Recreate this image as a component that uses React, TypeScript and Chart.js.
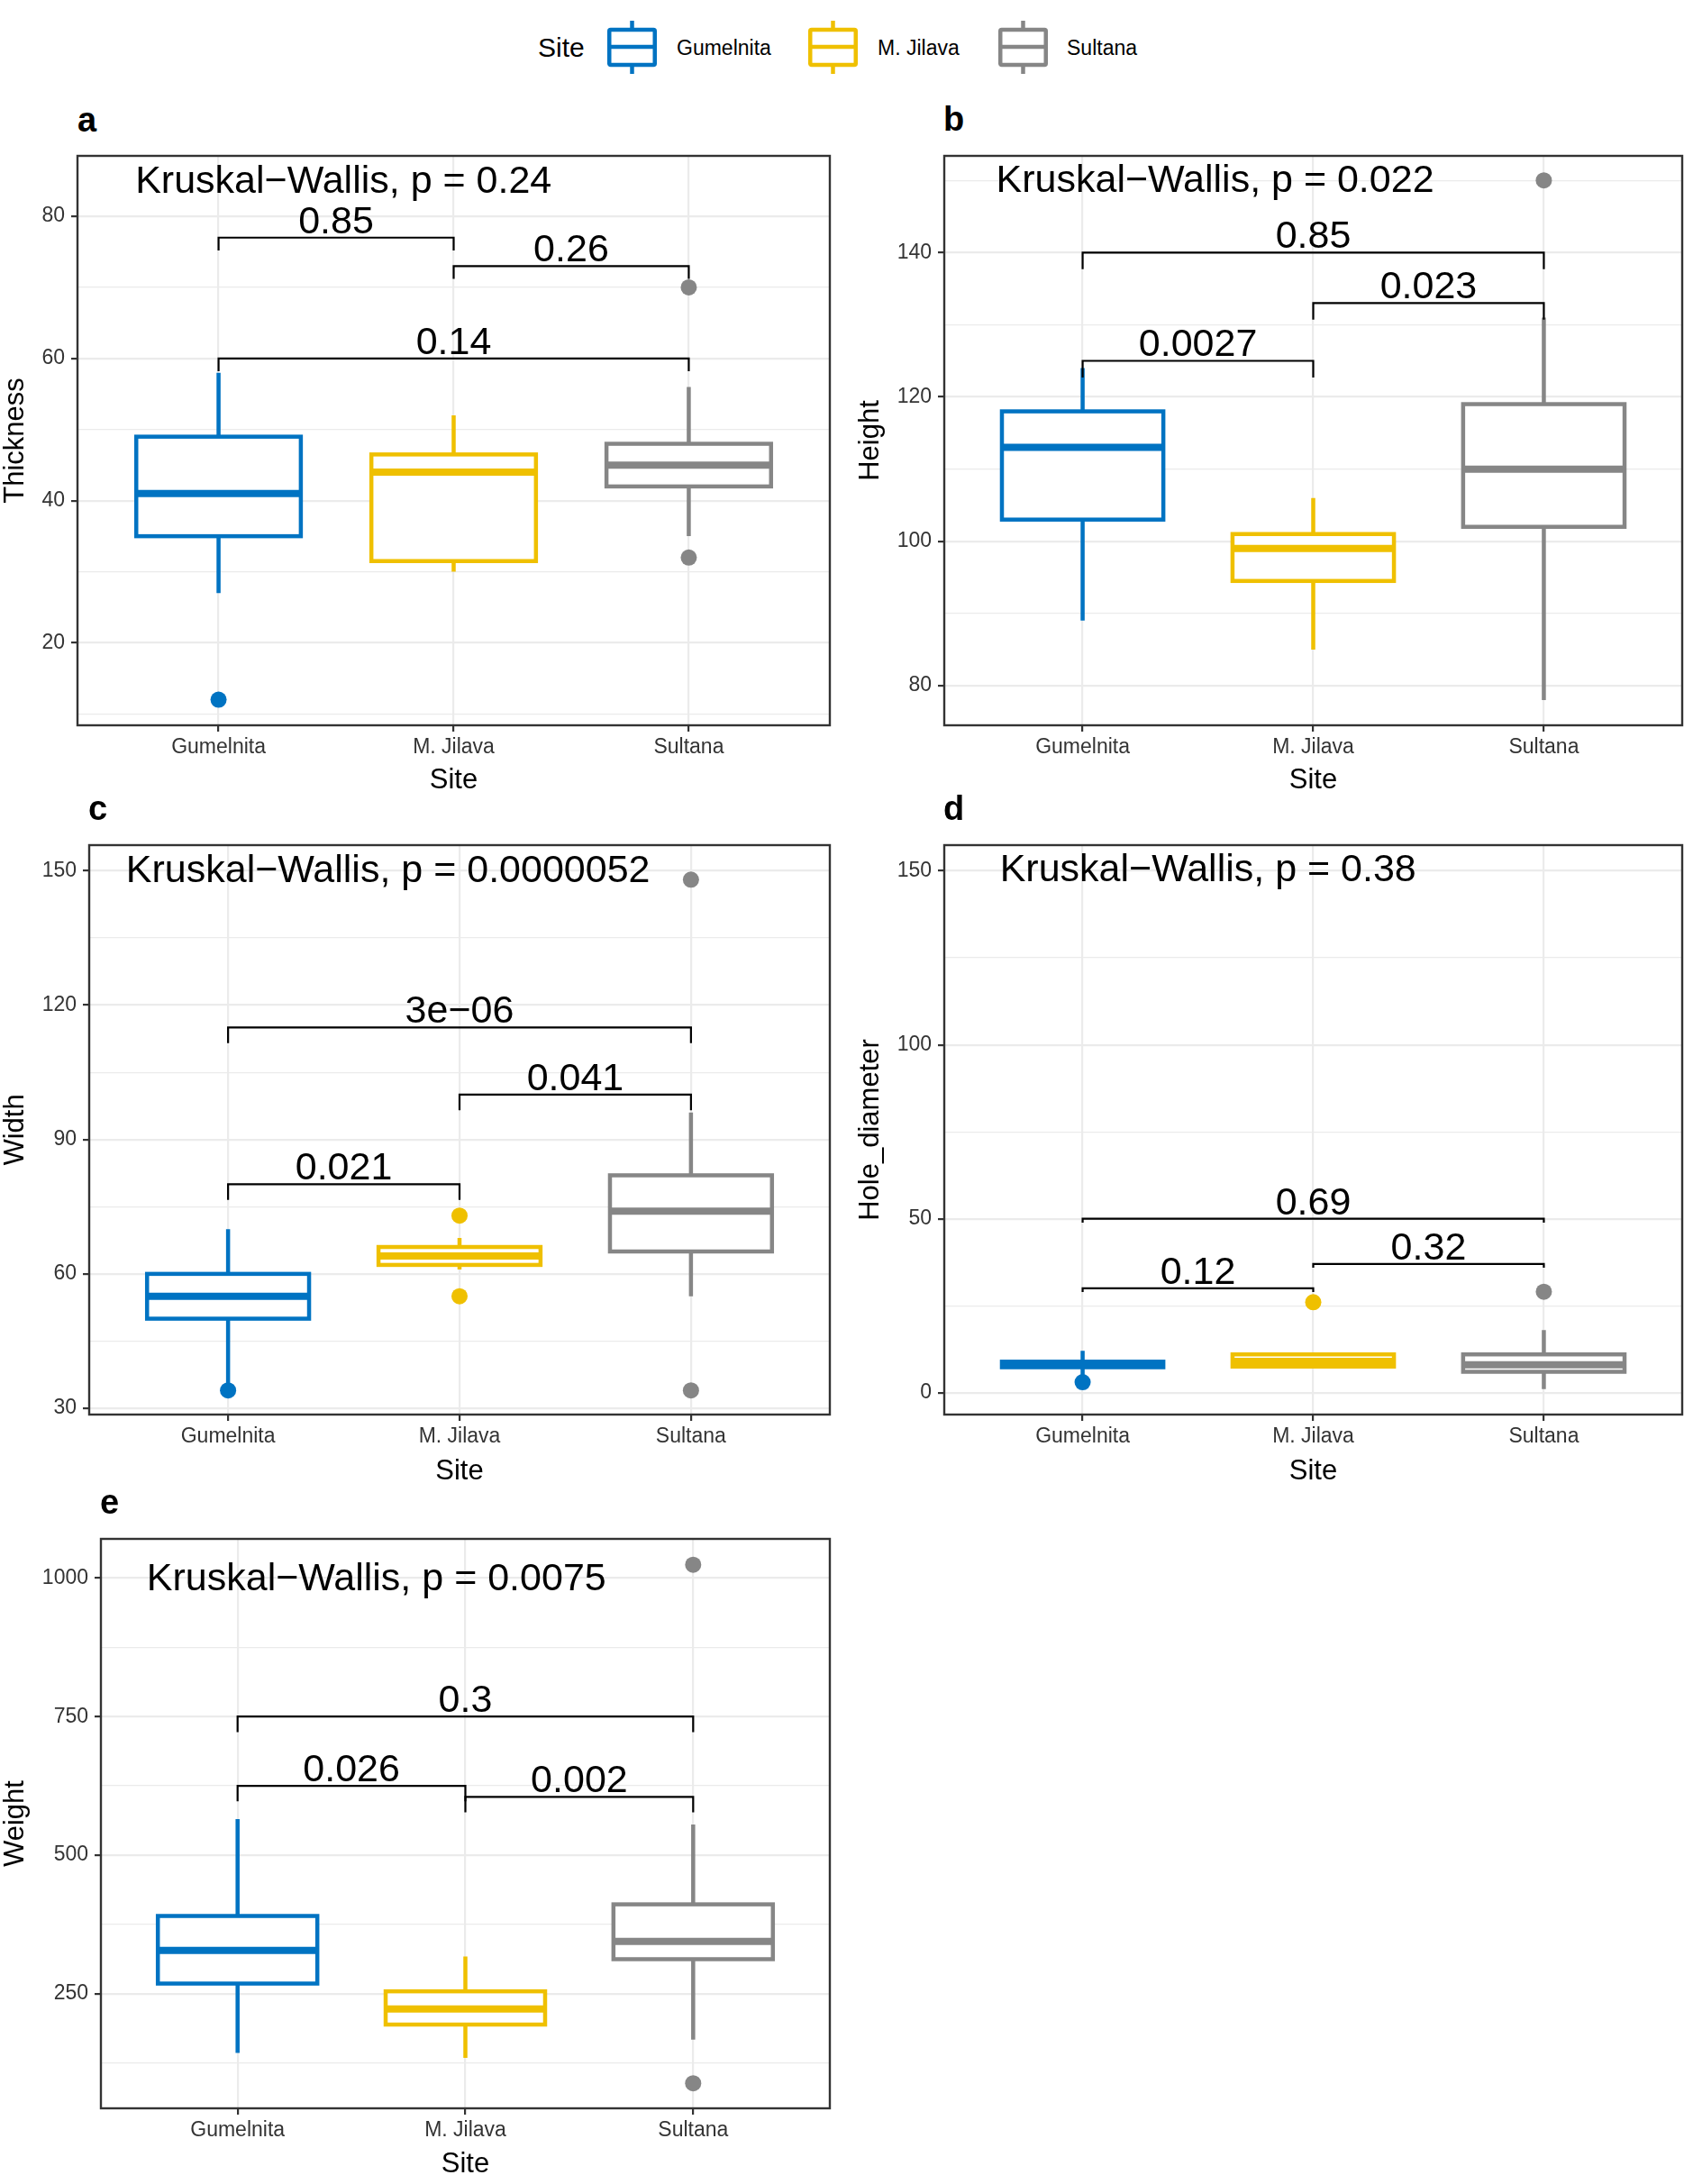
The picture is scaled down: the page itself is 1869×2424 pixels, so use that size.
import React, { useEffect, useRef } from "react";
import { Chart, registerables } from "chart.js";

Chart.register(...registerables);

const FONT = "'Liberation Sans', Arial, Helvetica, sans-serif";
Chart.defaults.font.family = FONT;

// ---------- DATA ----------
const SITES = ["Gumelnita", "M. Jilava", "Sultana"];
const SITE_COLORS = ["#0073C2", "#EFC000", "#868686"];

// five-number summaries per site: [lower whisker, Q1, median, Q3, upper whisker]
const THICKNESS_BOX = [
  [27, 35, 41, 49, 58],
  [30, 31.5, 44, 46.5, 52],
  [35, 42, 45, 48, 56],
];
const THICKNESS_OUTLIERS = [[12], [], [70, 32]];
const THICKNESS_BRACKETS = [
  { from: 1, to: 2, y: 77, p: "0.85" },
  { from: 2, to: 3, y: 73, p: "0.26" },
  { from: 1, to: 3, y: 60, p: "0.14" },
];
const THICKNESS_KW = "0.24";
const THICKNESS_MAJOR = [20, 40, 60, 80];
const THICKNESS_MINOR = [10, 30, 50, 70];

const HEIGHT_BOX = [
  [89, 103, 113, 118, 124],
  [85, 94.5, 99, 101, 106],
  [78, 102, 110, 119, 131],
];
const HEIGHT_OUTLIERS = [[], [], [150]];
const HEIGHT_BRACKETS = [
  { from: 1, to: 3, y: 140, p: "0.85" },
  { from: 2, to: 3, y: 133, p: "0.023" },
  { from: 1, to: 2, y: 125, p: "0.0027" },
];
const HEIGHT_KW = "0.022";
const HEIGHT_MAJOR = [80, 100, 120, 140];
const HEIGHT_MINOR = [90, 110, 130, 150];

const WIDTH_BOX = [
  [35, 50, 55, 60, 70],
  [61, 62, 64, 66, 68],
  [55, 65, 74, 82, 96],
];
const WIDTH_OUTLIERS = [[34], [73, 55], [148, 34]];
const WIDTH_BRACKETS = [
  { from: 1, to: 3, y: 115, p: "3e\u221206" },
  { from: 2, to: 3, y: 100, p: "0.041" },
  { from: 1, to: 2, y: 80, p: "0.021" },
];
const WIDTH_KW = "0.0000052";
const WIDTH_MAJOR = [30, 60, 90, 120, 150];
const WIDTH_MINOR = [45, 75, 105, 135];

const HOLE_BOX = [
  [5, 7.3, 8, 8.9, 12],
  [7.5, 7.5, 9, 11, 11],
  [1, 6, 8, 11, 18],
];
const HOLE_OUTLIERS = [[3], [26], [29]];
const HOLE_BRACKETS = [
  { from: 1, to: 3, y: 50, p: "0.69" },
  { from: 2, to: 3, y: 37, p: "0.32" },
  { from: 1, to: 2, y: 30, p: "0.12" },
];
const HOLE_KW = "0.38";
const HOLE_MAJOR = [0, 50, 100, 150];
const HOLE_MINOR = [25, 75, 125];

const WEIGHT_BOX = [
  [143, 268, 328, 390, 565],
  [134, 194, 222, 254, 317],
  [167, 312, 344, 411, 555],
];
const WEIGHT_OUTLIERS = [[], [], [1024, 88]];
const WEIGHT_BRACKETS = [
  { from: 1, to: 3, y: 750, p: "0.3" },
  { from: 1, to: 2, y: 625, p: "0.026" },
  { from: 2, to: 3, y: 605, p: "0.002" },
];
const WEIGHT_KW = "0.0075";
const WEIGHT_MAJOR = [250, 500, 750, 1000];
const WEIGHT_MINOR = [125, 375, 625, 875];

const PANELS = [
  { letter: "a", yTitle: "Thickness", box: THICKNESS_BOX, outliers: THICKNESS_OUTLIERS, brackets: THICKNESS_BRACKETS, kw: THICKNESS_KW, major: THICKNESS_MAJOR, minor: THICKNESS_MINOR },
  { letter: "b", yTitle: "Height", box: HEIGHT_BOX, outliers: HEIGHT_OUTLIERS, brackets: HEIGHT_BRACKETS, kw: HEIGHT_KW, major: HEIGHT_MAJOR, minor: HEIGHT_MINOR },
  { letter: "c", yTitle: "Width", box: WIDTH_BOX, outliers: WIDTH_OUTLIERS, brackets: WIDTH_BRACKETS, kw: WIDTH_KW, major: WIDTH_MAJOR, minor: WIDTH_MINOR },
  { letter: "d", yTitle: "Hole_diameter", box: HOLE_BOX, outliers: HOLE_OUTLIERS, brackets: HOLE_BRACKETS, kw: HOLE_KW, major: HOLE_MAJOR, minor: HOLE_MINOR },
  { letter: "e", yTitle: "Weight", box: WEIGHT_BOX, outliers: WEIGHT_OUTLIERS, brackets: WEIGHT_BRACKETS, kw: WEIGHT_KW, major: WEIGHT_MAJOR, minor: WEIGHT_MINOR },
];

// ---------- LAYOUT / STYLE ----------
const LAYOUT = [
  { L: 86, T: 173, R: 921, B: 805, yTitleX: 17, xTitleY: 866, yMin: 8.4, yMax: 88.5, tip: 1.8, kwX: 0.646, kwY: 84.85, letterX: 86, letterBase: 146 },
  { L: 1048, T: 173, R: 1867, B: 805, yTitleX: 966, xTitleY: 866, yMin: 74.5, yMax: 153.4, tip: 2.3, kwX: 0.625, kwY: 149.9, letterX: 1047, letterBase: 145 },
  { L: 99, T: 938, R: 921, B: 1570, yTitleX: 17, xTitleY: 1633, yMin: 28.6, yMax: 155.7, tip: 3.5, kwX: 0.559, kwY: 149.8, letterX: 98, letterBase: 910 },
  { L: 1048, T: 938, R: 1867, B: 1570, yTitleX: 966, xTitleY: 1633, yMin: -6.3, yMax: 157.4, tip: 1.1, kwX: 0.641, kwY: 150, letterX: 1047, letterBase: 910 },
  { L: 112, T: 1708, R: 921, B: 2340, yTitleX: 17, xTitleY: 2402, yMin: 42.8, yMax: 1070.7, tip: 28, kwX: 0.601, kwY: 998, letterX: 111, letterBase: 1680 },
];

const TITLE_SIZE = 31;
const TICK_SIZE = 23;
const ANNOT_SIZE = 43;
const PAD = 4;
const GRID = "#EBEBEB";
const AXIS = "#333333";
const TICK_TEXT = "#333333";
const BOX_HALF = 0.35;
const BOX_LW = 4.5;
const MEDIAN_LW = 8;

function zeroPadding(axis: any) {
  axis.paddingTop = 0;
  axis.paddingBottom = 0;
  axis.paddingLeft = 0;
  axis.paddingRight = 0;
}

function makePlugins(panel: any, lay: any) {
  const boxes = {
    id: "boxes",
    beforeDatasetsDraw(chart: any) {
      const { ctx, scales } = chart;
      const x = scales.x;
      const y = scales.y;
      ctx.save();
      panel.box.forEach((b: number[], i: number) => {
        const color = SITE_COLORS[i];
        const cx = x.getPixelForValue(i + 1);
        const hw = x.getPixelForValue(i + 1 + BOX_HALF) - cx;
        const [lo, q1, med, q3, hi] = b.map((v) => y.getPixelForValue(v));
        ctx.strokeStyle = color;
        ctx.lineCap = "butt";
        ctx.lineJoin = "miter";
        ctx.lineWidth = BOX_LW;
        ctx.beginPath();
        ctx.moveTo(cx, q3);
        ctx.lineTo(cx, hi);
        ctx.moveTo(cx, q1);
        ctx.lineTo(cx, lo);
        ctx.stroke();
        ctx.fillStyle = "#ffffff";
        ctx.fillRect(cx - hw, q3, 2 * hw, q1 - q3);
        ctx.strokeRect(cx - hw, q3, 2 * hw, q1 - q3);
        ctx.lineWidth = MEDIAN_LW;
        ctx.beginPath();
        ctx.moveTo(cx - hw, med);
        ctx.lineTo(cx + hw, med);
        ctx.stroke();
      });
      ctx.restore();
    },
  };
  const labels = {
    id: "labels",
    afterDatasetsDraw(chart: any) {
      const { ctx, scales } = chart;
      const x = scales.x;
      const y = scales.y;
      ctx.save();
      ctx.fillStyle = "#000000";
      ctx.font = `${ANNOT_SIZE}px ${FONT}`;
      ctx.textAlign = "left";
      ctx.textBaseline = "middle";
      ctx.fillText(`Kruskal\u2212Wallis, p = ${panel.kw}`, x.getPixelForValue(lay.kwX), y.getPixelForValue(lay.kwY));
      ctx.textAlign = "center";
      ctx.textBaseline = "alphabetic";
      panel.brackets.forEach((br: any) => {
        const mx = x.getPixelForValue((br.from + br.to) / 2);
        ctx.fillText(br.p, mx, y.getPixelForValue(br.y) - 5);
      });
      ctx.restore();
    },
    afterDraw(chart: any) {
      const { ctx, chartArea } = chart;
      ctx.save();
      ctx.strokeStyle = AXIS;
      ctx.lineWidth = 2.4;
      ctx.strokeRect(chartArea.left, chartArea.top, chartArea.right - chartArea.left, chartArea.bottom - chartArea.top);
      ctx.restore();
    },
  };
  return [boxes, labels];
}

function Panel({ panel, lay }: { panel: any; lay: any }) {
  const ref = useRef<HTMLCanvasElement>(null);
  const left = Math.round(lay.yTitleX - TITLE_SIZE / 2);
  const top = lay.T - PAD;
  const width = lay.R + PAD - left;
  const bottom = Math.round(lay.xTitleY + TITLE_SIZE / 2);
  const height = bottom - top;
  const yAxisW = lay.L - left;
  const xAxisH = bottom - lay.B;

  useEffect(() => {
    const canvas = ref.current;
    if (!canvas) return;
    const datasets: any[] = [];
    panel.outliers.forEach((vals: number[], i: number) => {
      datasets.push({
        label: SITES[i],
        data: vals.map((v) => ({ x: i + 1, y: v })),
        backgroundColor: SITE_COLORS[i],
        borderWidth: 0,
        pointRadius: 9,
        pointHoverRadius: 9,
        showLine: false,
      });
    });
    panel.brackets.forEach((br: any) => {
      datasets.push({
        label: br.p,
        data: [
          { x: br.from, y: br.y - lay.tip },
          { x: br.from, y: br.y },
          { x: br.to, y: br.y },
          { x: br.to, y: br.y - lay.tip },
        ],
        showLine: true,
        borderColor: "#000000",
        borderWidth: 2.2,
        borderJoinStyle: "miter",
        borderCapStyle: "butt",
        pointRadius: 0,
        tension: 0,
        fill: false,
      });
    });
    const isMajor = (v: number) => panel.major.includes(v);
    const chart = new Chart(canvas, {
      type: "scatter",
      data: { datasets },
      options: {
        responsive: false,
        animation: false,
        devicePixelRatio: 1,
        events: [],
        layout: { autoPadding: false, padding: { top: PAD, right: PAD, left: 0, bottom: 0 } },
        plugins: { legend: { display: false }, tooltip: { enabled: false }, title: { display: false } },
        scales: {
          x: {
            type: "linear",
            bounds: "data",
            min: 0.4,
            max: 3.6,
            afterBuildTicks: (axis: any) => {
              axis.ticks = SITES.map((_, i) => ({ value: i + 1 }));
            },
            afterFit: (axis: any) => {
              axis.height = xAxisH;
              zeroPadding(axis);
            },
            ticks: {
              autoSkip: false,
              maxRotation: 0,
              minRotation: 0,
              padding: 3.5,
              color: TICK_TEXT,
              font: { size: TICK_SIZE, family: FONT },
              callback: (v: any) => SITES[Math.round(Number(v)) - 1] ?? "",
            },
            grid: { color: GRID, lineWidth: 2.2, tickLength: 7, tickColor: AXIS, tickWidth: 2.2 },
            border: { display: false },
            title: { display: true, text: "Site", color: "#000000", padding: 0, font: { size: TITLE_SIZE, lineHeight: 1, family: FONT } },
          },
          y: {
            type: "linear",
            bounds: "data",
            min: lay.yMin,
            max: lay.yMax,
            afterBuildTicks: (axis: any) => {
              axis.ticks = [...panel.major, ...panel.minor].sort((a: number, b: number) => a - b).map((v: number) => ({ value: v }));
            },
            afterFit: (axis: any) => {
              axis.width = yAxisW;
              zeroPadding(axis);
            },
            ticks: {
              autoSkip: false,
              padding: 7,
              color: TICK_TEXT,
              font: { size: TICK_SIZE, family: FONT },
              callback: (v: any) => (isMajor(Number(v)) ? String(v) : ""),
            },
            grid: {
              color: GRID,
              lineWidth: (ctx: any) => (ctx.tick && isMajor(ctx.tick.value) ? 2.2 : 1.2),
              tickLength: 7,
              tickColor: (ctx: any) => (ctx.tick && isMajor(ctx.tick.value) ? AXIS : "rgba(0,0,0,0)"),
              tickWidth: 2.2,
            },
            border: { display: false },
            title: { display: true, text: panel.yTitle, color: "#000000", padding: 0, font: { size: TITLE_SIZE, lineHeight: 1, family: FONT } },
          },
        },
      } as any,
      plugins: makePlugins(panel, lay) as any,
    });
    return () => chart.destroy();
  }, []);

  return (
    <canvas
      ref={ref}
      width={width}
      height={height}
      style={{ position: "absolute", left, top, width, height }}
    />
  );
}

function LegendKey({ color, left }: { color: string; left: number }) {
  return (
    <svg width={55} height={60} style={{ position: "absolute", left, top: 23 }}>
      <line x1={27.5} y1={0} x2={27.5} y2={10} stroke={color} strokeWidth={4.5} />
      <line x1={27.5} y1={49} x2={27.5} y2={59} stroke={color} strokeWidth={4.5} />
      <rect x={2.25} y={10} width={50.5} height={39} fill="#ffffff" stroke={color} strokeWidth={4.5} rx={1.5} />
      <line x1={2.25} y1={29} x2={52.75} y2={29} stroke={color} strokeWidth={4.5} />
    </svg>
  );
}

const LEGEND_KEY_X = [674, 897, 1108];
const LEGEND_LABEL_X = [751, 974, 1184];

export default function App() {
  useEffect(() => {
    document.body.style.margin = "0";
    document.body.style.overflow = "hidden";
  }, []);
  return (
    <div
      style={{
        position: "absolute",
        left: 0,
        top: 0,
        width: 1869,
        height: 2424,
        overflow: "hidden",
        background: "#ffffff",
        fontFamily: FONT,
        color: "#000000",
      }}
    >
      <div style={{ position: "absolute", left: 597, top: 52.5 - 0.4885 * 30, fontSize: 30, lineHeight: 1, whiteSpace: "nowrap" }}>Site</div>
      {SITES.map((s, i) => (
        <React.Fragment key={s}>
          <LegendKey color={SITE_COLORS[i]} left={LEGEND_KEY_X[i]} />
          <div style={{ position: "absolute", left: LEGEND_LABEL_X[i], top: 53 - 0.4885 * 23, fontSize: 23, lineHeight: 1, whiteSpace: "nowrap" }}>{s}</div>
        </React.Fragment>
      ))}
      {PANELS.map((p, i) => (
        <Panel key={p.letter} panel={p} lay={LAYOUT[i]} />
      ))}
      {PANELS.map((p, i) => (
        <div
          key={"l" + p.letter}
          style={{ position: "absolute", left: LAYOUT[i].letterX, top: LAYOUT[i].letterBase - 0.8465 * 38, fontSize: 38, fontWeight: "bold", lineHeight: 1 }}
        >
          {p.letter}
        </div>
      ))}
    </div>
  );
}
